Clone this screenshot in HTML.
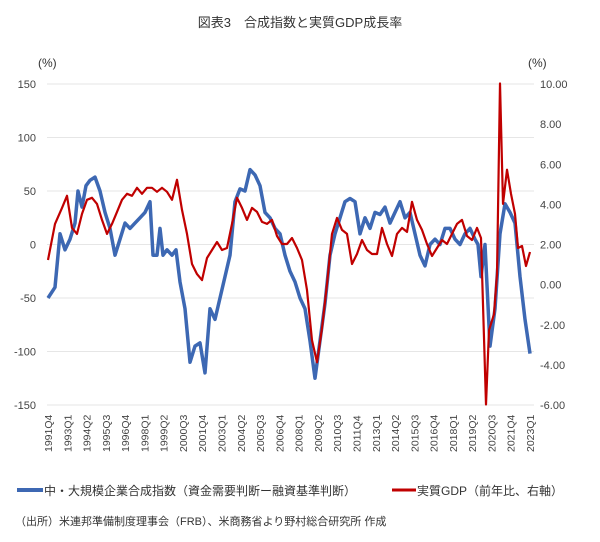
<!DOCTYPE html>
<html><head><meta charset="utf-8"><style>
body{margin:0;background:#fff;}
svg text{font-family:"Liberation Sans","Noto Sans CJK JP",sans-serif;}
</style></head><body>
<svg id="s" width="600" height="537" xmlns="http://www.w3.org/2000/svg">
<text x="300" y="27" font-size="13" text-anchor="middle" fill="#333">図表3　合成指数と実質GDP成長率</text>
<text x="38" y="67" font-size="12" fill="#333">(%)</text>
<text x="528" y="67" font-size="12" fill="#333">(%)</text>
<g id="grid" stroke="#e6e6e6" stroke-width="1"></g>
<g id="lab" font-size="11" fill="#444"></g>
<path id="blue" fill="none" stroke="#3d68b3" stroke-width="3.5" stroke-linejoin="round"/>
<path id="red" fill="none" stroke="#c00000" stroke-width="2.2" stroke-linejoin="round"/>
<line x1="17" y1="490" x2="43" y2="490" stroke="#3d68b3" stroke-width="4"/>
<text x="44" y="495" font-size="12" fill="#333">中・大規模企業合成指数（資金需要判断ー融資基準判断）</text>
<line x1="392" y1="490" x2="416" y2="490" stroke="#c00000" stroke-width="3"/>
<text x="417" y="495" font-size="12" fill="#333">実質GDP（前年比、右軸）</text>
<text x="15" y="525" font-size="11" fill="#333">（出所）米連邦準備制度理事会（FRB）、米商務省より野村総合研究所 作成</text>
</svg>
<script>
var ns="http://www.w3.org/2000/svg",g=document.getElementById('grid'),lab=document.getElementById('lab');
function el(p,t,a,tx){var e=document.createElementNS(ns,t);for(var k in a)e.setAttribute(k,a[k]);if(tx)e.textContent=tx;p.appendChild(e);return e;}
var T=84,BT=405;
for(var i=0;i<=6;i++){var y=T+i*(BT-T)/6;el(g,'line',{x1:47,x2:534,y1:y,y2:y});
el(lab,'text',{x:36,y:y+4,'text-anchor':'end'},String(150-50*i));}
for(var i=0;i<=8;i++){var y=T+i*(BT-T)/8;var v=10-2*i;el(lab,'text',{x:540,y:y+4},v.toFixed(2));}
var yr=1991,q=4;
for(var i=0;i<26;i++){var x=48+i*19.28;el(lab,'text',{x:x+4,y:452,transform:'rotate(-90 '+(x+4)+' 452)','font-size':'10.5'},yr+'Q'+q);
q+=1;yr+=1;if(q>4){q-=4;yr+=1;} }
function yl(v){return 244.5-v*(BT-T)/300;}
function yr2(v){return 284.1-v*(BT-T)/16;}
var B=[[48,-50],[55,-40],[60,10],[65,-5],[70,5],[75,20],[78,50],[82,35],[86,55],[90,60],[95,63],[100,50],[105,30],[110,15],[115,-10],[120,5],[125,20],[130,15],[135,20],[140,25],[145,30],[150,40],[153,-10],[157,-10],[160,15],[163,-10],[167,-5],[172,-10],[176,-5],[180,-35],[185,-60],[190,-110],[195,-95],[200,-92],[205,-120],[210,-60],[215,-70],[220,-50],[225,-30],[230,-10],[235,40],[240,52],[245,50],[250,70],[255,65],[260,55],[265,30],[270,25],[275,15],[280,10],[285,-10],[290,-25],[295,-35],[300,-50],[305,-60],[310,-90],[315,-125],[320,-90],[325,-55],[330,-10],[335,10],[340,25],[345,40],[350,43],[355,40],[360,10],[365,25],[370,15],[375,30],[380,28],[385,35],[390,20],[395,30],[400,40],[405,25],[410,30],[415,10],[420,-10],[425,-20],[430,0],[435,5],[440,0],[445,15],[450,15],[455,5],[460,0],[465,10],[470,15],[475,5],[478,0],[481,-30],[485,0],[490,-95],[495,-60],[500,10],[505,38],[510,30],[515,20],[520,-30],[525,-70],[530,-102]];
var R=[[48,1.2],[55,3],[62,3.8],[67,4.4],[72,2.8],[77,2.5],[82,3.5],[87,4.2],[92,4.3],[97,4],[102,3.2],[107,2.5],[112,3],[117,3.6],[122,4.2],[127,4.5],[132,4.4],[137,4.8],[142,4.5],[147,4.8],[152,4.8],[157,4.6],[162,4.8],[167,4.6],[172,4.2],[177,5.2],[182,3.7],[187,2.5],[192,1],[197,0.5],[202,0.2],[207,1.3],[212,1.7],[217,2.1],[222,1.7],[227,1.8],[232,3],[237,4.3],[242,3.8],[247,3.2],[252,3.8],[257,3.6],[262,3.1],[267,3],[272,3.2],[277,2.4],[282,2],[287,2],[292,2.3],[297,1.8],[302,1.2],[307,-0.3],[312,-2.8],[317,-3.9],[322,-2.2],[327,0],[332,2.5],[337,3.3],[342,2.7],[347,2.5],[352,1],[357,1.5],[362,2.2],[367,1.7],[372,1.5],[377,1.5],[382,2.8],[387,2],[392,1.4],[397,2.5],[402,2.8],[407,2.6],[412,4.1],[417,3.2],[422,2.7],[427,2],[432,1.4],[437,1.8],[442,2.2],[447,2],[452,2.5],[457,3],[462,3.2],[467,2.4],[472,2.2],[477,2.8],[481,2.3],[486,-6],[489,-2.3],[494,-1.5],[497,0.5],[500,10],[503,4],[507,5.7],[511,4.5],[515,3.5],[518,1.8],[522,1.9],[526,0.9],[530,1.6]];
document.getElementById('blue').setAttribute('d',B.map(function(p,i){return (i?'L':'M')+p[0]+' '+yl(p[1]).toFixed(1);}).join(''));
document.getElementById('red').setAttribute('d',R.map(function(p,i){return (i?'L':'M')+p[0]+' '+yr2(p[1]).toFixed(1);}).join(''));
</script>
</body></html>
